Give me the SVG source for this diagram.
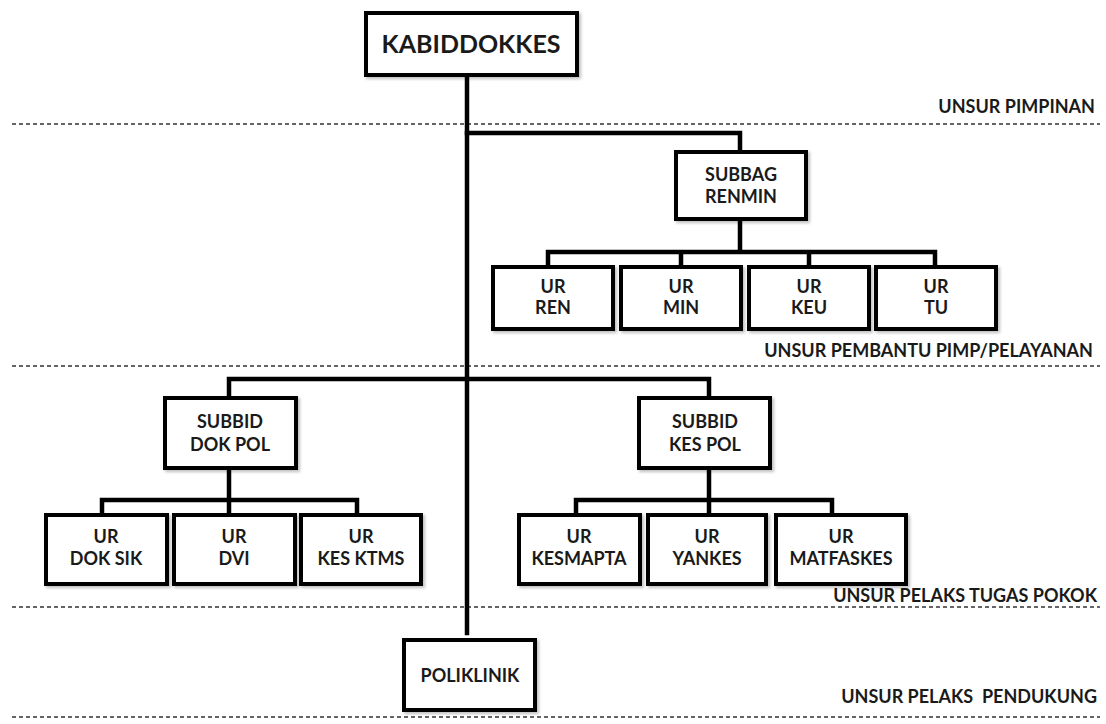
<svg xmlns="http://www.w3.org/2000/svg" width="1106" height="724" viewBox="0 0 1106 724">
<style>
.box{fill:#fff;stroke:#000;stroke-width:4}
.t{font-family:Lato,"Liberation Sans",sans-serif;font-weight:bold;font-size:18px;fill:#1a1a1a;text-anchor:middle}
.big{font-size:25px}
.lab{font-family:Lato,"Liberation Sans",sans-serif;font-weight:bold;font-size:18px;fill:#1a1a1a;text-anchor:end;white-space:pre}
.dash{stroke:#333;stroke-width:1.4;stroke-dasharray:4 3;fill:none}
.con{stroke:#000;stroke-width:4.5;fill:none;stroke-linecap:square}
</style>
<defs>
<filter id="sh" x="-10%" y="-10%" width="130%" height="130%">
<feDropShadow dx="2" dy="2" stdDeviation="1.5" flood-color="#000" flood-opacity="0.25"/>
</filter>
</defs>
<rect width="1106" height="724" fill="#fff"/>
<g id="separators">
<line class="dash" x1="12" y1="124" x2="1100" y2="124"/>
<line class="dash" x1="12" y1="366" x2="1100" y2="366"/>
<line class="dash" x1="12" y1="607" x2="1100" y2="607"/>
<line class="dash" x1="12" y1="717" x2="1100" y2="717"/>
<text class="lab" x="1095" y="113">UNSUR PIMPINAN</text>
<text class="lab" x="1093" y="357">UNSUR PEMBANTU PIMP/PELAYANAN</text>
<text class="lab" x="1097" y="602">UNSUR PELAKS TUGAS POKOK</text>
<text class="lab" x="1097" y="703" xml:space="preserve">UNSUR PELAKS  PENDUKUNG</text>
</g>
<g id="connectors">
<path class="con" d="M467 76 V633"/>
<path class="con" d="M467 133 H740 V152"/>
<path class="con" d="M740 219 V252 M548 252 H935 M548 252 V267 M681 252 V267 M809 252 V267 M935 252 V267"/>
<path class="con" d="M229 379 H709 M229 379 V398 M709 379 V398"/>
<path class="con" d="M229 468 V500 M102 500 H357 M102 500 V515 M229 500 V515 M357 500 V515"/>
<path class="con" d="M709 468 V500 M576 500 H832 M576 500 V515 M709 500 V515 M832 500 V515"/>
</g>
<g id="kabiddokkes"><rect class="box" filter="url(#sh)" x="366" y="13" width="211" height="62"/><text class="t big" x="471" y="53">KABIDDOKKES</text></g>
<g id="subbag-renmin"><rect class="box" filter="url(#sh)" x="676" y="152" width="130" height="67"/><text class="t" x="741" y="181">SUBBAG</text><text class="t" x="741" y="203">RENMIN</text></g>
<g id="ur-ren"><rect class="box" filter="url(#sh)" x="493" y="267" width="120" height="62"/><text class="t" x="553" y="293">UR</text><text class="t" x="553" y="314">REN</text></g>
<g id="ur-min"><rect class="box" filter="url(#sh)" x="621" y="267" width="120" height="62"/><text class="t" x="681" y="293">UR</text><text class="t" x="681" y="314">MIN</text></g>
<g id="ur-keu"><rect class="box" filter="url(#sh)" x="749" y="267" width="120" height="62"/><text class="t" x="809" y="293">UR</text><text class="t" x="809" y="314">KEU</text></g>
<g id="ur-tu"><rect class="box" filter="url(#sh)" x="876" y="267" width="120" height="62"/><text class="t" x="936" y="293">UR</text><text class="t" x="936" y="314">TU</text></g>
<g id="subbid-dokpol"><rect class="box" filter="url(#sh)" x="165" y="398" width="131" height="70"/><text class="t" x="230" y="428">SUBBID</text><text class="t" x="230" y="451">DOK POL</text></g>
<g id="subbid-kespol"><rect class="box" filter="url(#sh)" x="639" y="398" width="131" height="70"/><text class="t" x="705" y="428">SUBBID</text><text class="t" x="705" y="451">KES POL</text></g>
<g id="ur-doksik"><rect class="box" filter="url(#sh)" x="46" y="515" width="121" height="69"/><text class="t" x="106" y="543">UR</text><text class="t" x="106" y="565">DOK SIK</text></g>
<g id="ur-dvi"><rect class="box" filter="url(#sh)" x="174" y="515" width="121" height="69"/><text class="t" x="234" y="543">UR</text><text class="t" x="234" y="565">DVI</text></g>
<g id="ur-kesktms"><rect class="box" filter="url(#sh)" x="301" y="515" width="120" height="69"/><text class="t" x="361" y="543">UR</text><text class="t" x="361" y="565">KES KTMS</text></g>
<g id="ur-kesmapta"><rect class="box" filter="url(#sh)" x="519" y="515" width="121" height="69"/><text class="t" x="579" y="543">UR</text><text class="t" x="579" y="565">KESMAPTA</text></g>
<g id="ur-yankes"><rect class="box" filter="url(#sh)" x="648" y="515" width="118" height="69"/><text class="t" x="707" y="543">UR</text><text class="t" x="707" y="565">YANKES</text></g>
<g id="ur-matfaskes"><rect class="box" filter="url(#sh)" x="776" y="515" width="130" height="69"/><text class="t" x="841" y="543">UR</text><text class="t" x="841" y="565">MATFASKES</text></g>
<g id="poliklinik"><rect class="box" filter="url(#sh)" x="404" y="640" width="131" height="70"/><text class="t" x="470" y="682">POLIKLINIK</text></g>
</svg>
